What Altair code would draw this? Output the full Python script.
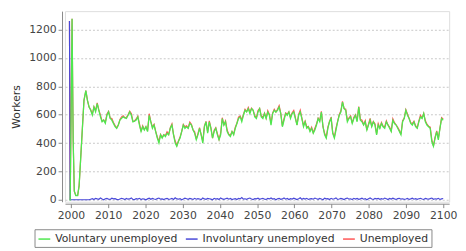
import altair as alt
import numpy as np
import pandas as pd

series_names = ["Voluntary unemployed", "Involuntary unemployed", "Unemployed"]
series_colors = ["#4ee84e", "#4848d8", "#ff5555"]

# start-up phase (irregular time points)
years_start = [1999.6, 1999.8, 2000.3, 2000.6, 2000.9, 2001.3, 2001.8, 2002.2, 2002.6, 2003.1, 2003.5]
vol_start = [0, 0, 1278, 420, 60, 30, 30, 100, 285, 516, 701]
invol_start = [1262, 0, 0, 0, 0, 0, 0, 0, 0, 0, 0]

# regular phase 2004..2100
vol_main = [
    770, 701, 654, 631, 597, 654, 620, 678, 631, 585, 550, 562, 539, 597, 620, 574, 562, 539, 516, 504, 527, 562, 574,
    585, 578, 573, 596, 619, 596, 550, 555, 562, 585,
    527, 481, 515, 492, 515, 481, 596, 550, 504, 527,
    481, 435, 400, 458, 435, 458, 446, 469, 458, 504,
    527, 458, 400, 377, 411, 435, 481, 527, 504, 515,
    504, 539, 527, 492, 469, 423, 458, 504, 458, 400,
    515, 550,
    469, 550, 504, 435, 481, 504, 458, 423, 458, 573,
    527, 550, 481, 458, 446, 481, 458, 504, 538, 573,
    585, 550, 596, 631, 619, 642, 608, 642, 631, 585,
    573, 619, 642, 585, 573, 608, 573, 619, 596, 527,
    608, 631, 619, 631, 654, 608, 515, 561,
    608, 596, 619, 573, 608, 619, 573, 527, 596, 619,
    573, 515, 550, 504, 515, 481, 504, 469, 492, 527,
    573, 550, 619, 515, 458, 435, 504, 550, 573, 469,
    435, 492, 550, 596, 619, 689, 642, 631, 550, 573,
    585, 538, 573, 596, 550, 654, 561, 550,
    527, 550, 492, 527, 561, 515, 550, 527, 458, 527,
    504, 538, 515, 504, 550, 527, 504, 481, 561, 538,
    527, 504, 481, 458, 550, 573, 631, 596, 573, 538,
    527, 550, 515, 504, 550, 585, 573, 608, 550, 527,
    515, 504, 411, 377, 435, 481, 423, 504, 573, 561,
]
invol_main = [
    0, 0, 0, 4, 8, 2, 10, 6, 3, 12, 5, 0, 7, 9, 4, 2, 11, 6, 8, 3,
    0, 5, 10, 7, 2, 9, 4, 6, 13, 3, 1, 8, 5, 10, 2, 7, 4, 0, 6, 11,
    3, 9, 5, 2, 8, 12, 4, 6, 1, 7, 10, 3, 5, 9, 2, 14, 6, 4, 8, 0,
    5, 11, 7, 3, 9, 6, 2, 10, 4, 8, 5, 1, 12, 6, 3, 9, 7, 4, 0, 10,
    5, 8, 2, 13, 6, 3, 7, 11, 4, 9, 1, 5, 8, 2, 10, 6, 15, 4, 7, 3,
    9, 12, 5, 1, 8, 6, 11, 3, 7, 10, 4, 2, 9, 6, 13, 5, 8, 0, 7, 10,
    3, 6, 12, 4, 9, 2, 8, 5, 11, 6, 1, 7, 14, 3, 9, 5, 10, 2, 6, 8,
    4, 12, 7, 3, 9, 5, 0, 11, 6, 8, 2, 10, 4, 7, 13, 3, 5, 9, 6, 1,
    8, 12, 4, 7, 2, 10, 5, 9, 3, 6, 11, 4, 8, 0, 7, 13, 5, 2, 9, 6,
    10, 3, 8, 4, 12, 7, 1, 9, 5, 11, 6, 2, 8, 10, 4, 7, 3, 5, 9, 2,
    6, 11, 4, 8, 3, 7, 10, 5, 2, 9, 6, 4, 8, 12, 3, 7, 5, 10, 2, 6,
    9,
]

n = min(len(vol_main), len(invol_main))
years_main = list(np.linspace(2004, 2100, n))
years = years_start + years_main
vol = vol_start + vol_main[:n]
invol = invol_start + invol_main[:n]
unemp = [a + b for a, b in zip(vol, invol)]

frames = []
for name, vals in zip(series_names, [vol, invol, unemp]):
    frames.append(pd.DataFrame({"year": years, "value": vals, "series": name}))
df = pd.concat(frames, ignore_index=True)

FONT = "DejaVu Sans"

color = alt.Color(
    "series:N",
    scale=alt.Scale(domain=series_names, range=series_colors),
    legend=alt.Legend(
        title=None, orient="none", legendX=-31, legendY=222, direction="horizontal",
        symbolType="stroke", symbolSize=144, symbolStrokeWidth=1.5,
        labelFont=FONT, labelFontSize=11, labelColor="#333",
        strokeColor="#888", padding=3, columnPadding=5, labelOffset=4,
    ),
)

x = alt.X("year:Q", scale=alt.Scale(domain=[1998.4, 2101.6], nice=False, zero=False),
          axis=alt.Axis(values=list(range(2000, 2101, 10)), format="d", title=None, grid=False,
                        offset=2, tickSize=4, labelPadding=2, domainColor="#888", tickColor="#888",
                        labelColor="#444", labelFont=FONT, labelFontSize=11))
y = alt.Y("value:Q", scale=alt.Scale(domain=[-14, 1331], nice=False, zero=False),
          axis=alt.Axis(values=list(range(0, 1201, 200)), format="d", title="Workers", grid=True,
                        gridDash=[2, 2], gridColor="#c8c8c8", offset=3, tickSize=4, labelPadding=2,
                        domainColor="#888", tickColor="#888", labelColor="#444", labelFont=FONT,
                        labelFontSize=11, titleFont=FONT, titleFontSize=11, titleFontWeight="normal",
                        titleColor="#333", titlePadding=7))

def layer(name, sw):
    return alt.Chart(df).transform_filter(alt.datum.series == name).mark_line(
        strokeWidth=sw, clip=True).encode(x=x, y=y, color=color, order="year:Q")

chart = alt.layer(
    layer("Unemployed", 1.2),
    layer("Involuntary unemployed", 1.2),
    layer("Voluntary unemployed", 1.3),
).properties(
    width=391, height=194,
    autosize=alt.AutoSizeParams(type="none"),
    padding={"left": 58, "top": 1, "right": 9, "bottom": 50},
).configure_view(stroke="#999", strokeWidth=1).configure(background="white")

chart.save("out.html", embed_options={"renderer": "svg", "actions": False})
